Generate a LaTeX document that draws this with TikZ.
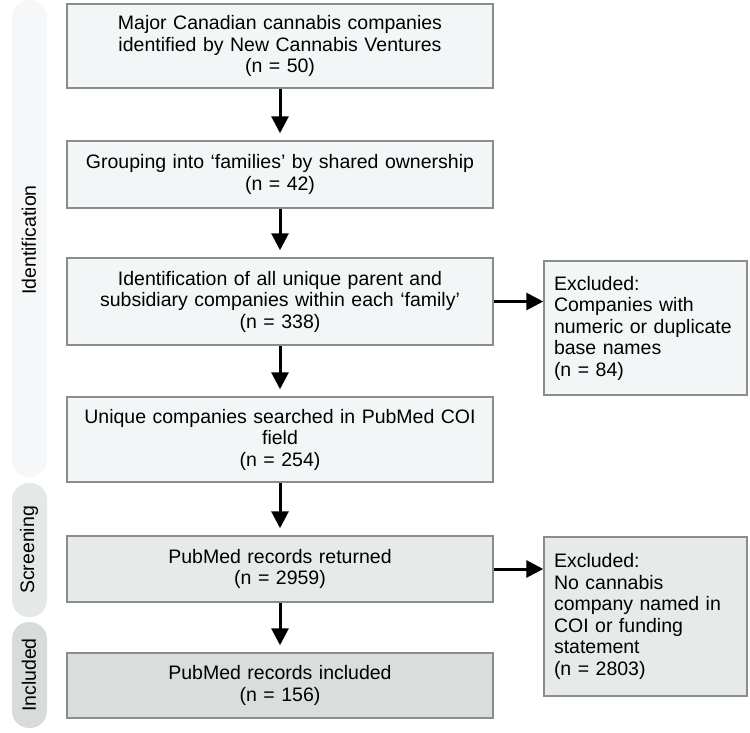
\documentclass[tikz,border=0pt]{standalone}
\usepackage{fontspec}
\setmainfont{Liberation Sans}
\usetikzlibrary{positioning,arrows.meta}

\definecolor{boxline}{HTML}{8C8C8C}
\definecolor{fillA}{HTML}{F3F6F7}
\definecolor{fillB}{HTML}{E6EAE9}
\definecolor{fillC}{HTML}{D9DDDC}
\definecolor{sideA}{HTML}{F5F7F8}
\definecolor{sideB}{HTML}{E4E8E7}
\definecolor{sideC}{HTML}{D7DBDA}

\begin{document}
\begin{tikzpicture}[x=1pt,y=-1pt]
\tikzstyle{every node}+=[font=\fontsize{19.5}{21.5}\selectfont]
\tikzstyle{stagebox}=[draw=boxline,line width=1.5pt,inner xsep=8pt,inner ysep=2pt,text width=410pt,align=center]
\tikzstyle{exclbox}=[draw=boxline,line width=1.5pt,inner xsep=10pt,inner ysep=2pt,text width=183pt,align=left]
\tikzstyle{flow}=[line width=3pt,-{Triangle[length=17pt,width=17pt]}]
\useasboundingbox (0,0) rectangle (750,732);
% phase bars on the left
\fill [sideA,rounded corners=17pt] (12,0) rectangle (47,477);
\fill [sideB,rounded corners=17pt] (12,483) rectangle (47,617);
\fill [sideC,rounded corners=17pt] (12,622) rectangle (47,728);
\node [rotate=90] (ident) at (29,240) {Identification};
\node [rotate=90] (screen) at (29,550) {Screening};
\node [rotate=90] (incl) at (29,675) {Included};
% main column
\node [stagebox,fill=fillA,minimum height=84pt] (companies) at (280,46) {Major Canadian cannabis companies\\identified by New Cannabis Ventures\\(n = 50)};
\node [stagebox,fill=fillA,minimum height=67pt] (families) at (280,174.5) {Grouping into ‘families’ by shared ownership\\(n = 42)};
\node [stagebox,fill=fillA,minimum height=87pt] (subsid) at (280,301.5) {Identification of all unique parent and\\subsidiary companies within each ‘family’\\(n = 338)};
\node [stagebox,fill=fillA,minimum height=85pt] (searched) at (280,439.5) {Unique companies searched in PubMed COI\\field\\(n = 254)};
\node [stagebox,fill=fillB,minimum height=66pt] (returned) at (280,569) {PubMed records returned\\(n = 2959)};
\node [stagebox,fill=fillC,minimum height=65pt] (included) at (280,685.5) {PubMed records included\\(n = 156)};
% exclusions
\node [exclbox,fill=fillA,minimum height=134pt] (excl1) at (645.5,328) {Excluded:\\Companies with\\numeric or duplicate\\base names\\(n = 84)};
\node [exclbox,fill=fillB,minimum height=159pt] (excl2) at (645.5,616.5) {Excluded:\\No cannabis\\company named in\\COI or funding\\statement\\(n = 2803)};
% arrows
\draw [flow,shorten >=7pt] (companies) -- (families);
\draw [flow,shorten >=7pt] (families) -- (subsid);
\draw [flow,shorten >=7pt] (subsid) -- (searched);
\draw [flow,shorten >=7pt] (searched) -- (returned);
\draw [flow,shorten >=7pt] (returned) -- (included);
\draw [flow] (subsid.east) -- (excl1.west |- subsid.east);
\draw [flow] (returned.east) -- (excl2.west |- returned.east);
\end{tikzpicture}
\end{document}
